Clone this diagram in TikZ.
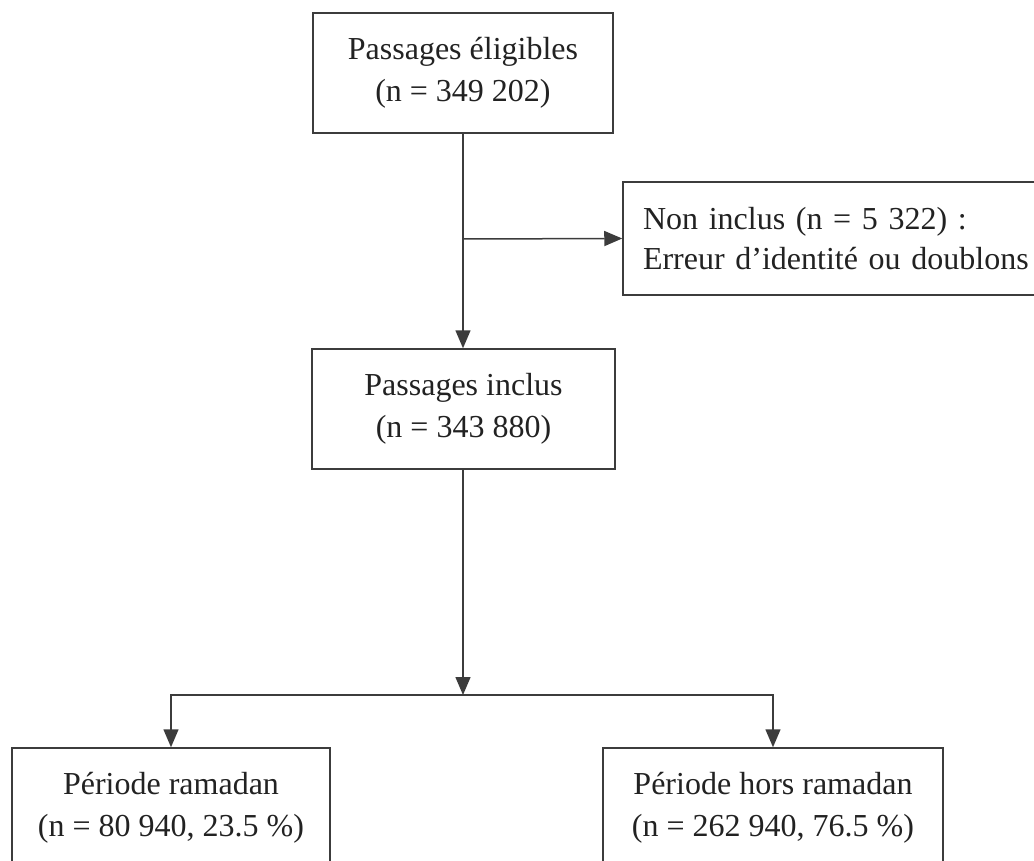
\documentclass[tikz,border=0pt]{standalone}
\usepackage{fontspec}
\setmainfont{Liberation Serif}
\usetikzlibrary{arrows.meta}
\definecolor{linec}{RGB}{60,60,60}
\definecolor{textc}{RGB}{34,34,34}
\begin{document}
\begin{tikzpicture}[x=1pt,y=-1pt,
  box/.style={draw=linec, line width=1.5pt, rectangle, align=center, text=textc,
    font=\fontsize{32}{42}\selectfont, inner sep=0pt},
  conn/.style={draw=linec, line width=1.5pt},
  arr/.style={conn, -{Triangle[length=18pt,width=15pt]}}]
\useasboundingbox (0,0) rectangle (1034,861);
\clip (0,0) rectangle (1034,861);
\fill[white] (0,0) rectangle (1034,861);
\node[box, minimum width=300pt, minimum height=120pt] (top) at (463,73)
  {Passages éligibles\\(n = 349 202)};
\node[box, minimum width=440pt, minimum height=113pt, text width=400pt,
  inner xsep=20pt, align=left, font=\fontsize{32}{40}\selectfont] (side) at (843,238.5)
  {Non inclus (n = 5 322) :\\Erreur d’identité ou doublons};
\node[box, minimum width=303pt, minimum height=120pt] (mid) at (463.5,409)
  {Passages inclus\\(n = 343 880)};
\node[box, minimum width=318pt, minimum height=120pt] (bl) at (171,808)
  {Période ramadan\\(n = 80 940, 23.5 \%)};
\node[box, minimum width=340pt, minimum height=120pt] (br) at (773,808)
  {Période hors ramadan\\(n = 262 940, 76.5 \%)};
\coordinate (j) at (463,239);
\coordinate (split) at (463,695);
\draw[arr] (top.south -| j) -- (mid.north -| j);
\draw[arr] (j) -- (side.west);
\draw[arr] (mid.south -| split) -- (split);
\draw[arr] (split) -| (bl.north);
\draw[arr] (split) -| (br.north);
\end{tikzpicture}
\end{document}
